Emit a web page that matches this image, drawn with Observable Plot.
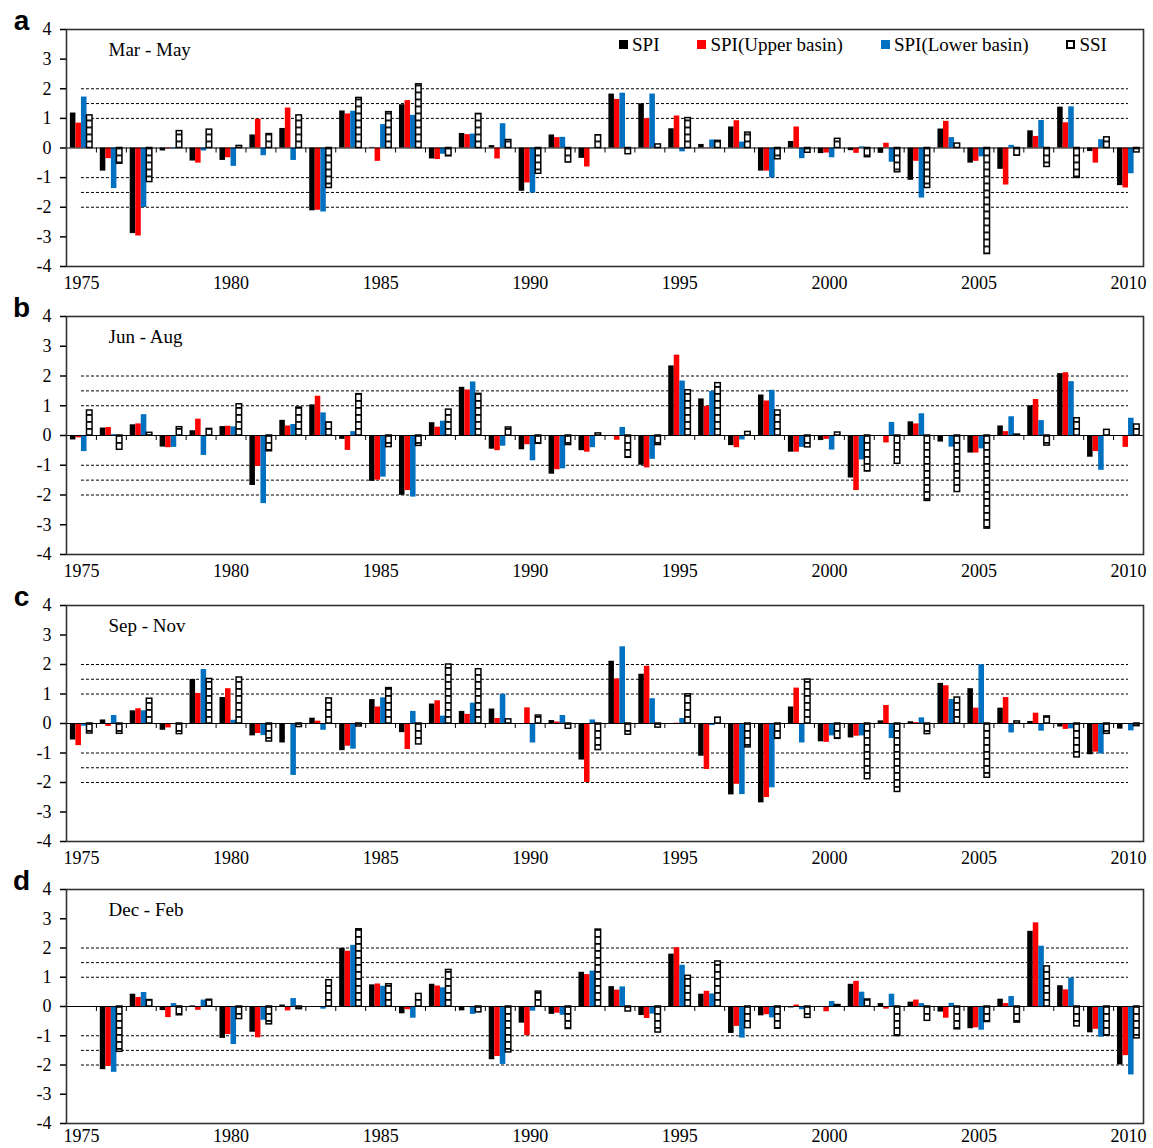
<!DOCTYPE html>
<html><head><meta charset="utf-8">
<script src="https://cdn.jsdelivr.net/npm/d3@7"></script>
<script src="https://cdn.jsdelivr.net/npm/@observablehq/plot@0.6"></script>
<style>
body{margin:0;background:#fff;width:1153px;}
.panel{position:relative;width:1153px;}
.panel svg{display:block;}
.legend{position:absolute;top:35px;left:619px;display:flex;gap:38px;font-family:"Liberation Serif","Times New Roman",serif;font-size:19px;line-height:19px;color:#000;}
.legend .item{display:flex;align-items:center;white-space:nowrap;}
.legend .sw{width:9px;height:9px;margin-right:4px;box-sizing:border-box;}
</style></head><body><div id="root"></div>
<script>
// ---- categories & ticks ----
const years = [1975,1976,1977,1978,1979,1980,1981,1982,1983,1984,1985,1986,1987,1988,1989,1990,1991,1992,1993,1994,1995,1996,1997,1998,1999,2000,2001,2002,2003,2004,2005,2006,2007,2008,2009,2010];
const xTickLabels = [1975,1980,1985,1990,1995,2000,2005,2010];
const yTicks = [-4,-3,-2,-1,0,1,2,3,4];
const thresholds = [-2,-1.5,-1,1,1.5,2];
const seriesNames = ["SPI","SPI(Upper basin)","SPI(Lower basin)","SSI"];
const seriesColors = ["#000000","#ff0000","#0070c0","#ffffff"];

// ---- a: Mar - May ----
const mamSPI   = [1.18,-0.78,-2.89,-0.10,-0.44,-0.42,0.44,0.66,-2.12,1.25,0.02,1.46,-0.37,0.49,0.08,-1.46,0.44,-0.35,1.82,1.49,0.65,0.12,0.71,-0.78,0.22,-0.19,-0.09,-0.18,-1.09,0.64,-0.51,-0.72,0.58,1.38,-0.12,-1.27];
const mamUpper = [0.84,-0.36,-2.97,-0.03,-0.51,-0.33,0.97,1.35,-2.10,1.15,-0.45,1.60,-0.39,0.45,-0.37,-1.18,0.35,-0.64,1.64,0.99,1.08,0.01,0.92,-0.78,0.71,-0.17,-0.18,0.16,-0.45,0.90,-0.45,-1.25,0.39,0.85,-0.51,-1.35];
const mamLower = [1.72,-1.37,-2.01,-0.03,-0.10,-0.62,-0.26,-0.42,-2.16,1.24,0.79,1.10,-0.21,0.47,0.82,-1.52,0.36,-0.02,1.85,1.82,-0.13,0.27,0.20,-1.01,-0.36,-0.33,0.04,-0.48,-1.69,0.35,-0.30,0.09,0.93,1.39,0.28,-0.87];
const mamSSI   = [1.10,-0.53,-1.15,0.57,0.62,0.07,0.47,1.10,-1.35,1.69,1.21,2.15,-0.28,1.15,0.27,-0.87,-0.49,0.43,-0.21,0.12,1.01,0.24,0.52,-0.38,-0.16,0.31,-0.31,-0.82,-1.35,0.15,-3.58,-0.26,-0.64,-1.01,0.36,-0.15];

// ---- b: Jun - Aug ----
const jjaSPI   = [-0.15,0.25,0.36,-0.39,0.16,0.30,-1.68,0.51,1.03,-0.13,-1.54,-2.01,0.43,1.62,-0.46,-0.48,-1.30,-0.51,0.00,-1.00,2.34,1.23,-0.34,1.36,-0.56,-0.17,-1.43,0.00,0.46,-0.22,-0.59,0.32,1.00,2.08,-0.73,0.00];
const jjaUpper = [-0.08,0.27,0.39,-0.41,0.55,0.31,-1.04,0.32,1.32,-0.50,-1.50,-1.85,0.28,1.53,-0.51,-0.31,-1.15,-0.56,-0.16,-1.09,2.70,0.98,-0.41,1.16,-0.56,-0.13,-1.85,-0.25,0.39,0.00,-0.59,0.13,1.21,2.11,-0.54,-0.40];
const jjaLower = [-0.54,0.03,0.70,-0.40,-0.67,0.29,-2.29,0.37,0.76,0.13,-1.40,-2.07,0.48,1.80,-0.36,-0.85,-1.12,-0.41,0.27,-0.80,1.83,1.48,-0.15,1.52,-0.40,-0.49,-0.82,0.44,0.73,-0.39,-0.45,0.63,0.50,1.81,-1.17,0.58];
const jjaSSI   = [0.84,-0.48,0.09,0.28,0.22,1.05,-0.53,0.94,0.44,1.39,-0.39,-0.35,0.87,1.40,0.27,-0.28,-0.32,0.07,-0.75,-0.32,1.52,1.76,0.12,0.84,-0.40,0.10,-1.21,-0.95,-2.20,-1.90,-3.13,0.03,-0.34,0.58,0.19,0.37];

// ---- c: Sep - Nov ----
const sonSPI   = [-0.56,0.12,0.43,-0.23,1.49,0.88,-0.42,-0.66,0.18,-0.92,0.81,-0.31,0.66,0.41,0.49,0.00,0.10,-1.24,2.11,1.67,0.00,-1.11,-2.42,-2.69,0.56,-0.62,-0.49,0.09,0.06,1.36,1.18,0.52,0.07,-0.12,-1.06,-0.19];
const sonUpper = [-0.75,-0.10,0.50,-0.15,1.02,1.18,-0.34,0.00,0.08,-0.77,0.56,-0.88,0.77,0.31,0.17,0.53,0.05,-2.00,1.51,1.94,0.01,-1.56,-2.06,-2.51,1.20,-0.64,-0.43,0.61,0.03,1.28,0.52,0.88,0.35,-0.20,-0.97,-0.03];
const sonLower = [-0.09,0.27,0.43,0.00,1.83,0.11,-0.41,-1.76,-0.23,-0.87,0.87,0.41,0.25,0.69,0.99,-0.66,0.27,0.12,2.60,0.84,0.17,-0.07,-2.41,-2.18,-0.66,-0.42,-0.42,-0.51,0.19,0.81,1.99,-0.32,-0.26,-0.18,-1.03,-0.25];
const sonSSI   = [-0.34,-0.35,0.84,-0.36,1.51,1.56,-0.61,-0.12,0.85,-0.10,1.20,-0.71,2.00,1.84,0.14,0.27,-0.18,-0.90,-0.38,-0.14,0.99,0.20,-0.81,-0.52,1.49,-0.52,-1.89,-2.32,-0.36,0.88,-1.84,0.07,0.24,-1.15,-0.35,-0.09];

// ---- d: Dec - Feb (no 1975 value) ----
const djfSPI   = [null,-2.16,0.42,-0.14,0.02,-1.09,-0.88,0.05,-0.02,1.99,0.74,-0.25,0.76,-0.15,-1.82,-0.57,-0.27,1.17,0.68,-0.31,1.79,0.42,-0.92,-0.32,-0.05,0.00,0.76,0.10,0.15,-0.19,-0.76,0.25,2.57,0.71,-0.90,-2.00];
const djfUpper = [null,-2.05,0.31,-0.38,-0.13,-0.96,-1.07,-0.15,0.00,1.89,0.77,-0.11,0.70,0.00,-1.71,-1.00,-0.23,1.09,0.56,-0.41,2.01,0.52,-0.68,-0.28,0.05,-0.18,0.86,-0.09,0.22,-0.40,-0.73,0.10,2.86,0.57,-0.78,-1.68];
const djfLower = [null,-2.25,0.48,0.10,0.22,-1.30,-0.47,0.27,-0.09,2.09,0.69,-0.40,0.64,-0.27,-1.98,-0.16,-0.30,1.21,0.67,-0.26,1.41,0.43,-1.08,-0.39,-0.11,0.17,0.49,0.42,0.10,0.11,-0.81,0.34,2.06,0.97,-1.05,-2.34];
const djfSSI   = [null,-1.55,0.22,-0.30,0.23,-0.43,-0.61,-0.09,0.90,2.64,0.76,0.43,1.25,-0.20,-1.57,0.51,-0.77,2.63,-0.17,-0.89,1.05,1.54,-0.74,-0.76,-0.39,0.05,0.24,-1.01,-0.49,-0.78,-0.53,-0.55,1.37,-0.68,-1.00,-1.09];

const panels = [
  {letter:"a", label:"Mar - May", series:[mamSPI,mamUpper,mamLower,mamSSI]},
  {letter:"b", label:"Jun - Aug", series:[jjaSPI,jjaUpper,jjaLower,jjaSSI]},
  {letter:"c", label:"Sep - Nov", series:[sonSPI,sonUpper,sonLower,sonSSI]},
  {letter:"d", label:"Dec - Feb", series:[djfSPI,djfUpper,djfLower,djfSSI]}
];

// layout
const W = 1153, ML = 66, MR = 10;
const heights = [292, 289, 284, 283];
const tops = [29, 24, 24, 24];
const bottoms = [26, 27, 24, 25];
const xPads = [10, 10, 10, 6];

const root = document.getElementById("root");
const bw = (W - ML - MR) / years.length;
const barW = bw * 0.185;
const pad = (bw - 4 * barW) / 2;
const boundaries = [years[0] - 0.5, ...years.map(y => y + 0.5)];

panels.forEach((p, idx) => {
  const patId = "ssiPattern" + idx;
  const rows = years.map((year, i) => ({year, v0: p.series[0][i], v1: p.series[1][i], v2: p.series[2][i], v3: p.series[3][i]}));
  const bar = (k) => Plot.rectY(rows, {
    x1: d => d.year - 0.5, x2: d => d.year + 0.5,
    y1: 0, y2: "v" + k,
    insetLeft: pad + k * barW, insetRight: bw - pad - (k + 1) * barW,
    fill: k === 3 ? `url(#${patId})` : seriesColors[k],
    stroke: k === 3 ? "#000" : "none",
    strokeWidth: 1.5
  });
  const svg = Plot.plot({
    width: W, height: heights[idx],
    marginLeft: ML, marginRight: MR, marginTop: tops[idx], marginBottom: bottoms[idx],
    style: {fontFamily: "'Liberation Serif','Times New Roman',serif", fontSize: "18px", color: "#000", background: "#fff", overflow: "visible"},
    x: {domain: [years[0] - 0.5, years[years.length - 1] + 0.5]},
    y: {domain: [yTicks[0], yTicks[yTicks.length - 1]]},
    marks: [
      Plot.ruleY(thresholds, {x1: years[0], x2: years[years.length - 1], stroke: "#000", strokeWidth: 1, strokeDasharray: "3,2"}),
      bar(0), bar(1), bar(2), bar(3),
      Plot.ruleX(boundaries, {y1: 0, y2: 0, insetBottom: -5, stroke: "#000", strokeWidth: 1}),
      Plot.ruleY([0], {stroke: "#000", strokeWidth: 1.2}),
      Plot.frame({stroke: "#333", strokeWidth: 1.6}),
      Plot.axisX(xTickLabels, {tickSize: 0, tickPadding: xPads[idx], tickFormat: d => String(d), label: null, fontSize: 18}),
      Plot.axisY(yTicks, {tickSize: 6, tickPadding: 9, tickFormat: d => String(d), label: null, fontSize: 18, strokeWidth: 1.5}),
      Plot.text([p.label], {frameAnchor: "top-left", textAnchor: "start", lineAnchor: "middle", dx: 42, dy: 20, fontSize: 19}),
      Plot.text([p.letter], {frameAnchor: "top-left", textAnchor: "middle", lineAnchor: "middle", dx: -45, dy: -8, fontSize: 28, fontWeight: "bold", fontFamily: "'Liberation Sans',Arial,sans-serif"})
    ]
  });
  // SSI hatch pattern
  const y0 = svg.scale("y").apply(0);
  const defs = d3.select(svg).insert("defs", ":first-child");
  const pat = defs.append("pattern").attr("id", patId).attr("patternUnits", "userSpaceOnUse")
    .attr("width", 12).attr("height", 7).attr("y", y0 % 7);
  pat.append("rect").attr("width", 12).attr("height", 7).attr("fill", "#fff");
  pat.append("rect").attr("width", 12).attr("height", 1.8).attr("fill", "#000");

  const div = document.createElement("div");
  div.className = "panel";
  div.appendChild(svg);
  if (idx === 0) {
    const leg = document.createElement("div");
    leg.className = "legend";
    seriesNames.forEach((name, k) => {
      const it = document.createElement("div");
      it.className = "item";
      const sw = document.createElement("span");
      sw.className = "sw";
      sw.style.background = seriesColors[k];
      if (k === 3) sw.style.border = "2px solid #000";
      it.appendChild(sw);
      it.appendChild(document.createTextNode(name));
      leg.appendChild(it);
    });
    div.appendChild(leg);
  }
  root.appendChild(div);
});
</script></body></html>
